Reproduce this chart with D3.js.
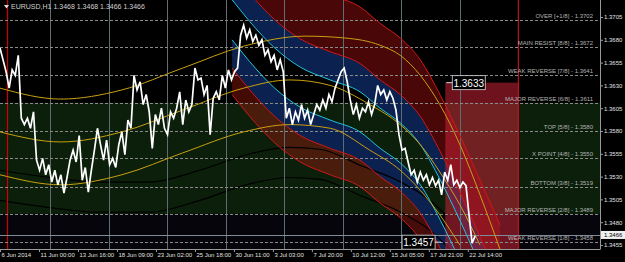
<!DOCTYPE html>
<html>
<head>
<meta charset="utf-8">
<script src="https://cdnjs.cloudflare.com/ajax/libs/d3/7.8.5/d3.min.js"></script>
<style>
  body { margin: 0; background: #000; overflow: hidden; }
  text { font-family: "Liberation Sans", Arial, sans-serif; }
</style>
</head>
<body>
<div id="chart"></div>
<script>
var W = 625, H = 262,
    plotW = 600, plotH = 249;

// murrey math levels
var levelNames = ["OVER  [+1/8]", "MAIN RESIST  [8/8]", "WEAK REVERSE  [7/8]", "MAJOR REVERSE  [6/8]",
                  "TOP  [5/8]", "X POINT  [4/8]", "BOTTOM  [3/8]", "MAJOR REVERSE  [2/8]", "WEAK REVERSE  [1/8]"];
var levelPrices = [1.3702, 1.3672, 1.3641, 1.3611, 1.3580, 1.3550, 1.3519, 1.3489, 1.3458];

var priceTicks = [1.3705, 1.3680, 1.3655, 1.3630, 1.3605, 1.3580, 1.3555, 1.3530, 1.3505, 1.3480, 1.3455];
var timeLabels = ["6 Jun 2014", "11 Jun 00:00", "13 Jun 16:00", "18 Jun 09:00", "23 Jun 02:00", "25 Jun 18:00",
                  "30 Jun 11:00", "3 Jul 03:00", "7 Jul 20:00", "10 Jul 12:00", "15 Jul 05:00", "17 Jul 21:00", "22 Jul 14:00"];
var timeBars = [0, 64, 128, 192, 256, 320, 384, 448, 512, 576, 640, 704, 768];
var gridBars = [82, 179, 274, 371, 466, 563, 658, 755];

// EURUSD H1 closes, one every 5 bars
var barStep = 5;
var closes = [1.3671, 1.3658, 1.3645, 1.3627, 1.3647, 1.3641, 1.3663, 1.3594, 1.3587, 1.3594,
              1.3583, 1.3601, 1.3548, 1.3537, 1.3550, 1.3532, 1.3543, 1.3524, 1.3537, 1.3521,
              1.3532, 1.3512, 1.3529, 1.3548, 1.3559, 1.3546, 1.3575, 1.3526, 1.3540, 1.3513,
              1.3537, 1.3559, 1.3583, 1.3565, 1.3548, 1.3570, 1.3543, 1.3550, 1.3540, 1.3565,
              1.3579, 1.3554, 1.3592, 1.3583, 1.3641, 1.3625, 1.3634, 1.3609, 1.3620, 1.3601,
              1.3561, 1.3598, 1.3587, 1.3605, 1.3583, 1.3576, 1.3601, 1.3594, 1.3605, 1.3623,
              1.3587, 1.3614, 1.3601, 1.3609, 1.3649, 1.3636, 1.3638, 1.3620, 1.3630, 1.3576,
              1.3616, 1.3623, 1.3614, 1.3641, 1.3627, 1.3647, 1.3636, 1.3645, 1.3649, 1.3685,
              1.3696, 1.3682, 1.3691, 1.3678, 1.3685, 1.3674, 1.3680, 1.3663, 1.3669, 1.3656,
              1.3663, 1.3647, 1.3658, 1.3645, 1.3594, 1.3605, 1.3587, 1.3601, 1.3592, 1.3609,
              1.3594, 1.3603, 1.3587, 1.3598, 1.3609, 1.3603, 1.3614, 1.3605, 1.3620, 1.3612,
              1.3627, 1.3636, 1.3645, 1.3649, 1.3634, 1.3614, 1.3598, 1.3609, 1.3594, 1.3605,
              1.3601, 1.3612, 1.3598, 1.3609, 1.3630, 1.3620, 1.3625, 1.3614, 1.3623, 1.3616,
              1.3603, 1.3576, 1.3559, 1.3561, 1.3546, 1.3532, 1.3537, 1.3524, 1.3535, 1.3526,
              1.3532, 1.3521, 1.3529, 1.3520, 1.3526, 1.3510, 1.3535, 1.3526, 1.3543, 1.3521,
              1.3526, 1.3518, 1.3524, 1.3520, 1.3488, 1.3457, 1.3465];
var quote = ["1.3468", "1.3468", "1.3466", "1.3466"];
var lastPrice = 1.3466;

// yellow regression curves
var yUpBars  = [0, 100, 200, 300, 400, 501, 566, 624, 657, 690, 722, 755, 788, 821];
var yUp      = [1.3627, 1.3615, 1.3625, 1.3649, 1.3673, 1.3684, 1.3682, 1.3674, 1.3663, 1.3641, 1.3609, 1.3565, 1.3510, 1.3450];
var yMidBars = [0, 100, 200, 300, 400, 476, 542, 607, 657, 690, 722, 755, 788];
var yMid     = [1.3579, 1.3568, 1.3579, 1.3603, 1.3627, 1.3636, 1.3630, 1.3609, 1.3587, 1.3565, 1.3535, 1.3499, 1.3455];
var yLowBars = [0, 100, 200, 300, 400, 476, 542, 607, 657, 690, 722, 755];
var yLow     = [1.3532, 1.3521, 1.3532, 1.3556, 1.3579, 1.3587, 1.3583, 1.3559, 1.3537, 1.3515, 1.3488, 1.3455];

// dark regression curves under the price
var darkBars = [0, 82, 164, 246, 328, 410, 476, 525, 596, 652, 706, 739];
var darkLow  = [1.3504, 1.3496, 1.3491, 1.3491, 1.3504, 1.3522, 1.3529, 1.3527, 1.3508, 1.3493, 1.3471, 1.3450];
var darkHigh = [1.3537, 1.3529, 1.3524, 1.3524, 1.3537, 1.3555, 1.3562, 1.3560, 1.3541, 1.3526, 1.3504, 1.3483];

// falling channel (centre line + band widths in price)
var chanBars = [381, 410, 451, 493, 542, 591, 624, 657, 690, 723, 755, 788, 821];
var chanMid  = [1.3702, 1.3678, 1.3649, 1.3628, 1.3614, 1.3601, 1.3583, 1.3567, 1.3543, 1.3504, 1.3460, 1.3411, 1.3362];
var blueBand = [0.0022, 0.0053];
var redUpper = [0.0053, 0.0115];
var redLower = [0.0053, 0.0082];

// target box
var boxBars = [731, 851];
var boxTop = 1.3633;
var lowBar = 775, lowPrice = 1.3457;

var x = d3.scaleLinear().domain([0, 985]).range([0, plotW]),
    y = d3.scaleLinear().domain([1.3455, 1.3705]).range([245, 17]);

var svg = d3.select("#chart").append("svg")
    .attr("width", W)
    .attr("height", H)
    .style("background", "#000");

svg.append("clipPath").attr("id", "clip")
  .append("rect").attr("width", plotW).attr("height", plotH);

var plot = svg.append("g").attr("clip-path", "url(#clip)");

// zones
plot.append("rect")
    .attr("x", 0).attr("width", plotW)
    .attr("y", y(levelPrices[3])).attr("height", y(levelPrices[7]) - y(levelPrices[3]))
    .attr("fill", "#0b1f0b");
plot.append("rect")
    .attr("x", 0).attr("width", plotW)
    .attr("y", y(levelPrices[7])).attr("height", plotH - y(levelPrices[7]))
    .attr("fill", "#05050b");

// channel bands
var chan = chanBars.map(function(b, i) { return {b: b, p: chanMid[i]}; });

function band(sign, lo, hi) {
  return d3.area()
    .curve(d3.curveMonotoneX)
    .x(function(d) { return x(d.b); })
    .y0(function(d) { return y(d.p + sign * lo); })
    .y1(function(d) { return y(d.p + sign * hi); });
}
function edge(off) {
  return d3.line()
    .curve(d3.curveMonotoneX)
    .x(function(d) { return x(d.b); })
    .y(function(d) { return y(d.p + off); });
}

plot.append("path").datum(chan).attr("d", band(1, redUpper[0], redUpper[1])).attr("fill", "#4a0707");
plot.append("path").datum(chan).attr("d", band(1, blueBand[0], blueBand[1])).attr("fill", "#0b2150");
plot.append("path").datum(chan).attr("d", band(-1, blueBand[0], blueBand[1])).attr("fill", "#0b2150");
plot.append("path").datum(chan).attr("d", band(-1, redLower[0], redLower[1])).attr("fill", "rgba(150,25,10,0.45)");

// dark curves
var yline = d3.line().curve(d3.curveMonotoneX)
    .x(function(d) { return x(d[0]); })
    .y(function(d) { return y(d[1]); });
[darkLow, darkHigh].forEach(function(s) {
  plot.append("path")
      .datum(darkBars.map(function(b, i) { return [b, s[i]]; }))
      .attr("d", yline)
      .attr("fill", "none").attr("stroke", "#000").attr("stroke-width", 1.2);
});

// target box
plot.append("rect")
    .attr("x", x(boxBars[0])).attr("width", x(boxBars[1]) - x(boxBars[0]))
    .attr("y", y(boxTop)).attr("height", plotH - y(boxTop))
    .attr("fill", "rgba(200,35,55,0.55)");
plot.append("line")
    .attr("x1", x(boxBars[1])).attr("x2", x(boxBars[1]))
    .attr("y1", 0).attr("y2", plotH)
    .attr("stroke", "#c01020").attr("stroke-width", 1.2);

// vertical separators
plot.selectAll(".vgrid")
  .data(gridBars)
  .enter().append("line")
    .attr("class", "vgrid")
    .attr("x1", function(d) { return Math.round(x(d)) + 0.5; })
    .attr("x2", function(d) { return Math.round(x(d)) + 0.5; })
    .attr("y1", 0).attr("y2", plotH)
    .attr("stroke", "#5f6d73").attr("stroke-width", 1);

plot.append("line")
    .attr("x1", 7.5).attr("x2", 7.5).attr("y1", 0).attr("y2", plotH)
    .attr("stroke", "#d00000").attr("stroke-width", 1.2);

// murrey lines
plot.selectAll(".mm")
  .data(levelPrices)
  .enter().append("line")
    .attr("class", "mm")
    .attr("x1", 0).attr("x2", plotW)
    .attr("y1", function(d) { return Math.round(y(d)) + 0.5; })
    .attr("y2", function(d) { return Math.round(y(d)) + 0.5; })
    .attr("stroke", "#8a8a8a").attr("stroke-dasharray", "3,2").attr("stroke-width", 1);

plot.append("line")
    .attr("x1", 0).attr("x2", plotW)
    .attr("y1", Math.round(y(lastPrice)) + 0.5).attr("y2", Math.round(y(lastPrice)) + 0.5)
    .attr("stroke", "#7f8c96").attr("stroke-width", 1);

// channel edges
[redUpper[1], redUpper[0]].forEach(function(o) {
  plot.append("path").datum(chan).attr("d", edge(o)).attr("fill", "none").attr("stroke", "#d01818").attr("stroke-width", 1);
});
[redLower[1], redLower[0]].forEach(function(o) {
  plot.append("path").datum(chan).attr("d", edge(-o)).attr("fill", "none").attr("stroke", "#d01818").attr("stroke-width", 1);
});
[blueBand[0]].forEach(function(o) {
  plot.append("path").datum(chan).attr("d", edge(o)).attr("fill", "none").attr("stroke", "#22c4d8").attr("stroke-width", 1);
  plot.append("path").datum(chan).attr("d", edge(-o)).attr("fill", "none").attr("stroke", "#22c4d8").attr("stroke-width", 1);
});

// yellow curves
[[yUpBars, yUp], [yMidBars, yMid], [yLowBars, yLow]].forEach(function(s) {
  plot.append("path")
      .datum(s[0].map(function(b, i) { return [b, s[1][i]]; }))
      .attr("d", yline)
      .attr("fill", "none").attr("stroke", "#c8a010").attr("stroke-width", 1);
});

// price
plot.append("path")
    .datum(closes)
    .attr("d", d3.line()
      .x(function(d, i) { return x(i * barStep); })
      .y(function(d) { return y(d); }))
    .attr("fill", "none").attr("stroke", "#fff").attr("stroke-width", 1.7);

// murrey labels
plot.selectAll(".mmlabel")
  .data(levelPrices)
  .enter().append("text")
    .attr("x", 593)
    .attr("y", function(d) { return y(d) - 2; })
    .attr("text-anchor", "end")
    .attr("font-size", "6px")
    .attr("fill", "#b4b4b4")
    .text(function(d, i) { return levelNames[i] + " - " + d.toFixed(4); });

// price boxes
function priceBox(px, py, label, lineDir) {
  var g = svg.append("g");
  g.append("rect")
      .attr("x", px).attr("y", py - 7).attr("width", 33).attr("height", 14)
      .attr("fill", "#000").attr("stroke", "#d8d8d8").attr("stroke-width", 0.8);
  g.append("text")
      .attr("x", px + 16.5).attr("y", py + 4)
      .attr("text-anchor", "middle")
      .attr("font-size", "10px")
      .attr("fill", "#fff")
      .text(label);
  g.append("line")
      .attr("x1", lineDir < 0 ? px - 6 : px + 33).attr("x2", lineDir < 0 ? px : px + 39)
      .attr("y1", py).attr("y2", py)
      .attr("stroke", "#d8d8d8");
}
priceBox(x(boxBars[0]) + 7, y(boxTop), boxTop.toFixed(4), -1);
priceBox(x(lowBar) - 70, y(lowPrice) - 1, lowPrice.toFixed(4), 1);

// title
svg.append("path").attr("d", "M4,5 L9,5 L6.5,8.5 Z").attr("fill", "#ddd");
svg.append("text")
    .attr("x", 11).attr("y", 9)
    .attr("font-size", "7px")
    .attr("fill", "#d0d0d0")
    .text("EURUSD,H1  " + quote.join(" "));

// axes
svg.append("g")
    .attr("class", "x-axis")
    .attr("transform", "translate(0," + plotH + ")")
    .call(d3.axisBottom(x).tickValues(timeBars).tickSize(3).tickSizeOuter(0)
      .tickFormat(function(d, i) { return timeLabels[i]; }))
    .call(function(g) {
      g.select(".domain").attr("stroke", "#9a9a9a");
      g.selectAll(".tick line").attr("stroke", "#9a9a9a");
      g.selectAll("text").attr("fill", "#e0e0e0").attr("font-size", "6px")
        .attr("text-anchor", "start").attr("dx", 1).attr("y", 4);
    });

svg.append("g")
    .attr("class", "y-axis")
    .attr("transform", "translate(" + plotW + ",0)")
    .call(d3.axisRight(y).tickValues(priceTicks).tickSize(3).tickSizeOuter(0)
      .tickFormat(d3.format(".4f")))
    .call(function(g) {
      g.select(".domain").attr("stroke", "#9a9a9a").attr("d", "M0.5,0V" + plotH);
      g.selectAll(".tick line").attr("stroke", "#9a9a9a");
      g.selectAll("text").attr("fill", "#e0e0e0").attr("font-size", "6px").attr("x", 4);
    });

// current price tag
svg.append("rect")
    .attr("x", plotW + 1).attr("y", y(lastPrice) - 4).attr("width", 24).attr("height", 8)
    .attr("fill", "#f0f0f0");
svg.append("text")
    .attr("x", plotW + 4).attr("y", y(lastPrice) + 2.2)
    .attr("font-size", "6px").attr("fill", "#000")
    .text(lastPrice.toFixed(4));
</script>
</body>
</html>
